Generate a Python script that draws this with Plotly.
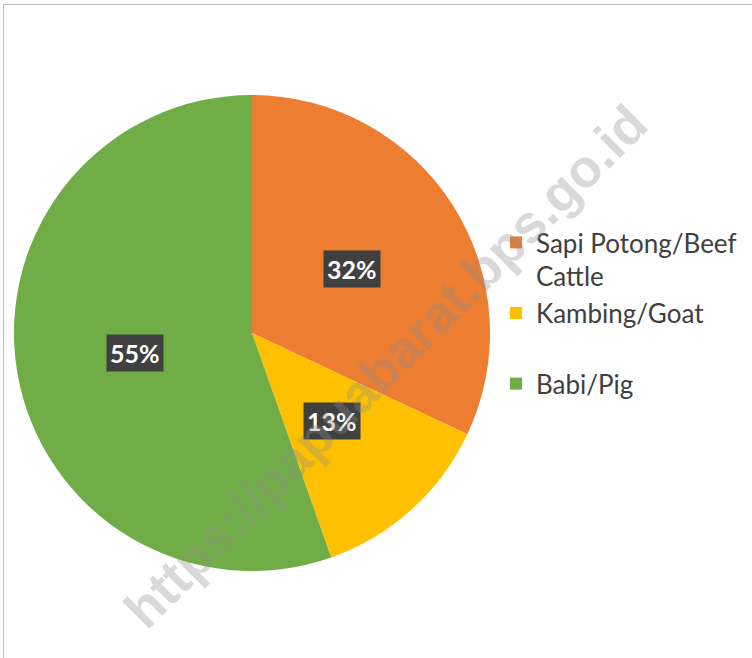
import math
import plotly.graph_objects as go

# Data
categories = ["Sapi Potong/Beef<br>Cattle", "Kambing/Goat<br> ", "Babi/Pig"]
shares = [32.0, 12.6, 55.4]
colors = ["#ED7D31", "#FFC000", "#70AD47"]

W, H = 752, 658
# pie placement (pixels)
cx, cy, R = 252, 333, 238

fig = go.Figure()
fig.add_trace(go.Pie(
    labels=categories,
    values=shares,
    sort=False,
    direction="clockwise",
    rotation=0,
    marker=dict(colors=colors, line=dict(width=0)),
    textinfo="none",
    hoverinfo="label+percent",
    domain=dict(x=[(cx - R) / W, (cx + R) / W], y=[1 - (cy + R) / H, 1 - (cy - R) / H]),
    showlegend=True,
))

# data labels computed from values: mid-angle of each slice, at half radius
annotations = []
total = sum(shares)
cum = 0.0
for v in shares:
    mid = (cum + v / 2) / total * 2 * math.pi
    cum += v
    px = cx + 0.5 * R * math.sin(mid)
    py = cy - 0.5 * R * math.cos(mid)
    annotations.append(dict(
        x=px / W, y=1 - py / H, xref="paper", yref="paper",
        text="<b>%d%%</b>" % round(v / total * 100),
        showarrow=False, bgcolor="#404040", borderpad=3,
        font=dict(family="Lato", size=25, color="white"),
        xanchor="center", yanchor="middle",
    ))

# watermark
annotations.append(dict(
    x=385 / W, y=1 - 366 / H, xref="paper", yref="paper",
    text="<b>https://papuabarat.bps.go.id</b>", showarrow=False, textangle=-45,
    font=dict(family="Liberation Sans", size=53, color="rgba(140,140,140,0.33)"),
    xanchor="center", yanchor="middle",
))

fig.update_layout(
    width=W, height=H,
    margin=dict(l=0, r=0, t=0, b=0),
    paper_bgcolor="white",
    plot_bgcolor="white",
    annotations=annotations,
    legend=dict(
        x=496 / W, y=1 - 219 / H, xanchor="left", yanchor="top",
        valign="top",
        font=dict(family="Lato", size=26, color="#404040"),
        bgcolor="rgba(0,0,0,0)",
    ),
    shapes=[
        dict(type="line", xref="paper", yref="paper", x0=3.5 / W, x1=1, y0=1 - 4.5 / H, y1=1 - 4.5 / H,
             line=dict(color="#BFBFBF", width=1)),
        dict(type="line", xref="paper", yref="paper", x0=3.5 / W, x1=3.5 / W, y0=0, y1=1 - 4.5 / H,
             line=dict(color="#BFBFBF", width=1)),
    ],
)

fig.write_html("out.html", config={"displayModeBar": False},
               post_script="document.body.style.margin='0px';")
